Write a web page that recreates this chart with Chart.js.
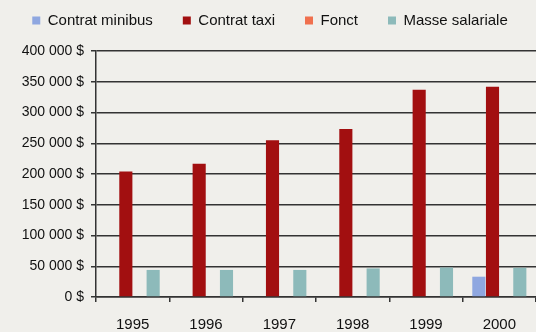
<!DOCTYPE html>
<html>
<head>
<meta charset="utf-8">
<script src="https://cdn.jsdelivr.net/npm/chart.js@4/dist/chart.umd.min.js"></script>
<style>
html,body{margin:0;padding:0;background:#f0efeb;}
#wrap{width:536px;height:332px;position:relative;}
</style>
</head>
<body>
<div id="wrap"><canvas id="c" width="536" height="332"></canvas></div>
<script>
const years = ["1995","1996","1997","1998","1999","2000"];
const contratMinibus = [0, 0, 0, 0, 0, 33000];
const contratTaxi = [204000, 216500, 255000, 273000, 337000, 342000];
const fonct = [0, 0, 0, 0, 0, 0];
const masseSalariale = [44000, 44000, 44000, 46500, 48000, 47500];
const yTicks = [0, 50000, 100000, 150000, 200000, 250000, 300000, 350000, 400000];

const fmt = v => (v === 0 ? "0" : String(v).replace(/\B(?=(\d{3})+(?!\d))/g, " ")) + " $";
const FONT = "'Liberation Sans', Arial, sans-serif";

new Chart(document.getElementById("c"), {
  type: "bar",
  data: {
    labels: years,
    datasets: [
      {label: "Contrat minibus", data: contratMinibus, backgroundColor: "#8fa7e0"},
      {label: "Contrat taxi", data: contratTaxi, backgroundColor: "#a20f10"},
      {label: "Fonct", data: fonct, backgroundColor: "#f0704e"},
      {label: "Masse salariale", data: masseSalariale, backgroundColor: "#8dbaba"}
    ]
  },
  options: {
    responsive: false,
    animation: false,
    devicePixelRatio: 1,
    categoryPercentage: 0.745,
    barPercentage: 0.96,
    layout: {padding: {left: -2, right: -6, top: -17, bottom: -16}},
    plugins: {
      legend: {
        position: "top",
        labels: {
          font: {family: FONT, size: 15},
          color: "#111",
          boxWidth: 8,
          boxHeight: 8,
          padding: 30
        }
      },
      title: {
        display: true,
        text: "",
        weight: 500,
        font: {size: 10, lineHeight: 1},
        padding: {top: 0, bottom: 3}
      },
      tooltip: {enabled: false}
    },
    scales: {
      x: {
        offset: true,
        grid: {offset: true, drawOnChartArea: false, drawTicks: true, tickLength: 5, color: "#333", lineWidth: 1.5},
        border: {color: "#333", width: 1.5},
        ticks: {font: {family: FONT, size: 15}, color: "#111", padding: 14}
      },
      y: {
        min: 0, max: 400000,
        afterFit: s => { s.width = 98; },
        afterBuildTicks: s => { s.ticks = yTicks.map(v => ({value: v})); },
        grid: {color: "#333", lineWidth: 1.5, tickLength: 5},
        border: {color: "#333", width: 1.5},
        ticks: {callback: v => fmt(v), font: {family: FONT, size: 14}, color: "#111", padding: 7}
      }
    }
  }
});
</script>
</body>
</html>
